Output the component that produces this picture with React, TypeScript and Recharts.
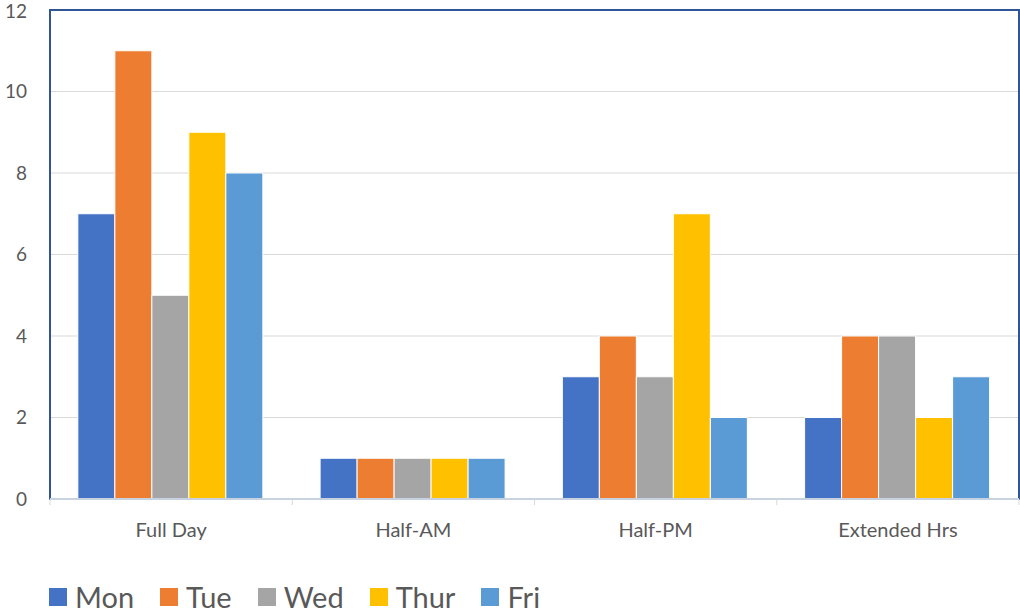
import React from "react";
import {
  BarChart,
  Bar,
  XAxis,
  YAxis,
  CartesianGrid,
  Legend,
  ReferenceArea,
} from "recharts";

// categories and per-day counts
const categories = ["Full Day", "Half-AM", "Half-PM", "Extended Hrs"];
const mon = [7, 1, 3, 2];
const tue = [11, 1, 4, 4];
const wed = [5, 1, 3, 4];
const thur = [9, 1, 7, 2];
const fri = [8, 1, 2, 3];
const yTicks = [0, 2, 4, 6, 8, 10, 12];

const SERIES = [
  { key: "Mon", values: mon, color: "#4472C4" },
  { key: "Tue", values: tue, color: "#ED7D31" },
  { key: "Wed", values: wed, color: "#A5A5A5" },
  { key: "Thur", values: thur, color: "#FFC000" },
  { key: "Fri", values: fri, color: "#5B9BD5" },
];

const data = categories.map((name, i) => {
  const row: Record<string, string | number> = { name };
  SERIES.forEach((s) => {
    row[s.key] = s.values[i];
  });
  return row;
});

const W = 1020;
const H = 614;
const LEFT = 50;
const RIGHT = 1;
const FONT = "Lato, 'Noto Sans', sans-serif";
const BAND = (W - LEFT - RIGHT) / categories.length;

function CategoryTick(props: any) {
  const { x, y, payload, index } = props;
  const left = x - BAND / 2;
  return (
    <g>
      <line x1={left} y1={y} x2={left} y2={y + 6} stroke="#D9D9D9" />
      {index === categories.length - 1 && (
        <line x1={x + BAND / 2} y1={y} x2={x + BAND / 2} y2={y + 6} stroke="#D9D9D9" />
      )}
      <text
        x={x}
        y={y + 38}
        textAnchor="middle"
        fill="#595959"
        fontSize={20}
        fontFamily={FONT}
      >
        {payload.value}
      </text>
    </g>
  );
}

function LegendContent() {
  return (
    <div style={{ display: "flex", alignItems: "center", fontFamily: FONT }}>
      {SERIES.map((s) => (
        <div
          key={s.key}
          style={{ display: "flex", alignItems: "center", marginRight: 26 }}
        >
          <span
            style={{
              display: "inline-block",
              width: 18,
              height: 18,
              background: s.color,
              marginRight: 8,
            }}
          />
          <span style={{ fontSize: 29, color: "#595959", lineHeight: "30px" }}>
            {s.key}
          </span>
        </div>
      ))}
    </div>
  );
}

export default function App() {
  return (
    <div style={{ position: "absolute", left: 0, top: 0, width: W, height: H, background: "#fff" }}>
      <BarChart
        width={W}
        height={H}
        data={data}
        margin={{ top: 10, right: RIGHT, left: 0, bottom: 0 }}
        barCategoryGap="11.5%"
        barGap={0}
      >
        <CartesianGrid vertical={false} stroke="#D9D9D9" />
        <ReferenceArea
          y1={0}
          y2={12}
          fill="none"
          fillOpacity={0}
          stroke="#2F5597"
          strokeWidth={2}
        />
        <YAxis
          width={LEFT}
          domain={[0, 12]}
          ticks={yTicks}
          axisLine={{ stroke: "#2F5597", strokeWidth: 2 }}
          tickLine={false}
          tickSize={0}
          tickMargin={23}
          tick={{ fill: "#595959", fontSize: 19, fontFamily: FONT }}
        />
        <Legend
          height={50}
          verticalAlign="bottom"
          content={<LegendContent />}
          wrapperStyle={{ left: 49, top: 582, width: "auto" }}
        />
        {SERIES.map((s) => (
          <Bar
            key={s.key}
            dataKey={s.key}
            fill={s.color}
            stroke="#ffffff"
            strokeWidth={1}
            isAnimationActive={false}
          />
        ))}
        <XAxis
          dataKey="name"
          height={65}
          axisLine={{ stroke: "#C9D2E0", strokeWidth: 2 }}
          tickLine={false}
          tickSize={0}
          tickMargin={0}
          interval={0}
          tick={<CategoryTick />}
        />
      </BarChart>
    </div>
  );
}
